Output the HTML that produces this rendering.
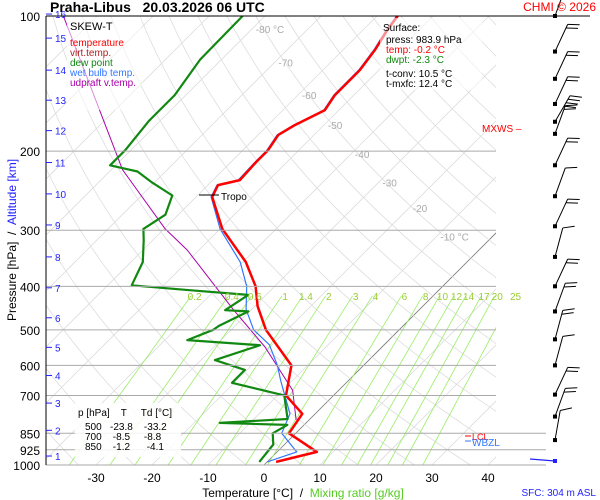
<!DOCTYPE html>
<html><head><meta charset="utf-8">
<style>
body{margin:0;background:#fff;}
svg{display:block;font-family:"Liberation Sans",sans-serif;}
</style></head>
<body>
<svg id="chart" width="600" height="500" viewBox="0 0 600 500" xmlns="http://www.w3.org/2000/svg">
<g id="grid"></g>
<g id="series"></g>
<g id="winds"></g>
<g id="labels"></g>
</svg>
<script>
// ---- data ----
const tempP = [984,935,850,769,700,600,500,443,400,353,298,253,238,232,212,199,184,175,162,150,132,119,107,100];
const tempT = [1.6,7.1,-1.2,-2.3,-8.5,-12.9,-23.8,-29.5,-33.4,-39.5,-49.6,-57.1,-58.2,-55.2,-55.5,-55.5,-56.4,-55.2,-52.5,-53.4,-53.4,-54.3,-55.7,-56.3];
const dewP = [984,900,850,814,806,790,700,656,614,584,541,527,500,490,455,452,418,408,398,353,316,298,277,251,235,222,215,199,171,150,125,100];
const dewT = [-1.4,-2,-4.1,-3,-15.4,-4,-8.8,-20.4,-20.4,-27.5,-22.1,-36,-33.2,-32.9,-30.2,-34.6,-33.2,-44.5,-55.7,-57.9,-61.6,-63.7,-62.3,-64.5,-70.4,-75,-81,-81,-82,-82,-83.8,-84];
const wbP = [984,935,850,769,700,650,600,540,500,450,400,353,298,253,238,232,212,199,184,175,162,150,132,119,107,100];
const wbT = [0,3.5,-2.5,-4.5,-8.7,-12,-15.4,-20.5,-26,-31,-35,-40.5,-50,-57.3,-58.4,-55.5,-55.7,-55.7,-56.6,-55.4,-52.7,-53.6,-53.6,-54.5,-55.9,-56.5];
const parP = [794,682,546,451,332,298,220,100];
const parT = [-2.3,-8.2,-20.9,-33.2,-52.1,-59.8,-78,-116];
const pressureTicks = [100,200,300,400,500,600,700,850,925,1000];
const tempTicks = [-30,-20,-10,0,10,20,30,40];
const isoLabels = [-80,-70,-60,-50,-40,-30,-20,-10];
const mixRatios = [0.2,0.4,0.6,1,1.4,2,3,4,6,8,10,12,14,17,20,25];
const altKm = [1,2,3,4,5,6,7,8,9,10,11,12,13,14,15,16];
const altP = [955,837,728,632,547,470,403,344,292,249,212,180,154,132,112,99];
const windP = [100,120,138,157,172,183,215,252,294,344,400,455,525,600,697,780,880];
const windDir = [20,25,25,25,30,20,25,20,25,15,25,20,15,15,25,20,10];
const windSpd = [20,20,20,20,40,20,20,10,20,10,20,20,20,10,20,20,10];

// ---- axes ----
const NS="http://www.w3.org/2000/svg";
const yOf = p => 16 + 449*Math.log10(p/100);
const xOf = (T,p) => 264 + 5.6*T + (465 - yOf(p));
function el(tag, attrs, parent){const e=document.createElementNS(NS,tag);for(const k in attrs)e.setAttribute(k,attrs[k]);parent.appendChild(e);return e;}
const grid=document.getElementById('grid'), series=document.getElementById('series'), winds=document.getElementById('winds'), labels=document.getElementById('labels');
const L=46, R=496;

const defs=el('defs',{},document.getElementById('chart'));
const cp=el('clipPath',{id:'plotclip'},defs);
el('rect',{x:L,y:16,width:R-L,height:449},cp);
grid.setAttribute('clip-path','url(#plotclip)');

for(let T=-150;T<=50;T+=10){
  const l=el('line',{x1:xOf(T,1000),y1:yOf(1000),x2:xOf(T,100),y2:yOf(100),stroke:T===0?'#777':'#ddd','stroke-width':0.8},grid);
  
  
}
for(let th=230;th<=480;th+=10){
  let d='';
  for(let p=1000;p>=100;p-=10){const T=th*Math.pow(p/1000,0.286)-273.15;d+=(p===1000?'M':'L')+xOf(T,p).toFixed(1)+','+yOf(p).toFixed(1);}
  const a=el('path',{d:d,fill:'none',stroke:'#ddd','stroke-width':0.8},grid);
  
  
}
function tdOf(w,p){const e=w*p/(622+w);const g=Math.log(e/6.112);return 243.5*g/(17.67-g);}
mixRatios.forEach(w=>{
  const m=el('line',{x1:xOf(tdOf(w,1000),1000),y1:yOf(1000),x2:xOf(tdOf(w,420),420),y2:yOf(420),stroke:'#99ee66','stroke-width':0.8},grid);
  
  
  const t=el('text',{x:xOf(tdOf(w,410),410),y:yOf(410)+9,'font-size':10,fill:'#99cc33','text-anchor':'middle'},labels);
  t.textContent=w;
  
  
});
pressureTicks.forEach(p=>{
  const y=yOf(p);
  const right = p>=850 ? 546 : (p===100?590:R);
  const l=el('line',{x1:L,y1:y,x2:right,y2:y,stroke:p===100?'#000':'#aaa','stroke-width':1},labels);
  
  
  const t=el('text',{x:40,y:y+5,'font-size':12,fill:'#000','text-anchor':'end'},labels);
  t.textContent=p;
  
  
});
el('line',{x1:L,y1:16,x2:L,y2:465,stroke:'#000','stroke-width':1},labels);
tempTicks.forEach(T=>{
  const t=el('text',{x:xOf(T,1000),y:482,'font-size':12,fill:'#000','text-anchor':'middle'},labels);
  t.textContent=T;
  
  
});
isoLabels.forEach(T=>{
  const pp = T===-80?107:T===-70?127:T===-60?150:T===-50?175:T===-40?203:T===-30?235:T===-20?268:310;
  const t=el('text',{x:xOf(T,pp)+4,y:yOf(pp)+4,'font-size':10,fill:'#aaa'},labels);
  t.textContent=(T===-80||T===-10)?T+' °C':T;
  
  
});
altKm.forEach((k,i)=>{
  const y=yOf(altP[i]);
  el('line',{x1:L,y1:y,x2:52,y2:y,stroke:'#22f','stroke-width':1},labels);
  const t=el('text',{x:55,y:y+4,'font-size':10,fill:'#22f'},labels);
  t.textContent=k;
  
  
});

function line(P,T,color,w,name){
  let d='';P.forEach((p,i)=>{d+=(i?'L':'M')+xOf(T[i],p).toFixed(1)+','+yOf(p).toFixed(1);});
  const s=el('path',{d:d,fill:'none',stroke:color,'stroke-width':w,'stroke-linejoin':'round'},series);
  
  
}
line(parP,parT,'#a0a','1','updraft-line');
line(wbP,wbT,'#3377ff','1.2','wet-bulb-line');
line(dewP,dewT,'#118811','2.2','dewpoint-line');
line(tempP,tempT,'#ff0000','2.5','temperature-line');

windP.forEach((p,i)=>{
  const x=555,y=yOf(p);
  const a=windDir[i]*Math.PI/180;
  const ex=x+30*Math.sin(a), ey=y-30*Math.cos(a);
  const g=el('g',{},winds);
  
  
  el('line',{x1:x,y1:y,x2:ex,y2:ey,stroke:'#000','stroke-width':1},g);
  el('rect',{x:x-2,y:y-2,width:4,height:4,fill:'#000'},g);
  let n=Math.round(windSpd[i]/10);
  for(let k=0;k<n;k++){
    const bx=ex-k*4*Math.sin(a), by=ey+k*4*Math.cos(a);
    const b=a+Math.PI/2-0.4;
    el('line',{x1:bx,y1:by,x2:bx+12*Math.sin(b),y2:by-12*Math.cos(b),stroke:'#000','stroke-width':1},g);
  }
});
el('line',{x1:530,y1:459,x2:555,y2:461,stroke:'#22f','stroke-width':1.2},winds);
el('rect',{x:553,y:459,width:4,height:4,fill:'#22f'},winds);
</script>
<svg style="position:absolute;left:0;top:0" width="600" height="500" xmlns="http://www.w3.org/2000/svg" font-family="Liberation Sans, sans-serif">
<text x="50" y="12" font-size="14" font-weight="bold">Praha-Libus&#160;&#160;&#160;20.03.2026 06 UTC</text>
<text x="596" y="11" font-size="12" fill="#f00" text-anchor="end">CHMI © 2026</text>
<g>
<rect x="67" y="17" width="74" height="93" fill="#fff" opacity="0.55"/>
<text x="70" y="30" font-size="11">SKEW-T</text>
<text x="70" y="46" font-size="10" fill="#f00">temperature</text>
<text x="70" y="56" font-size="10" fill="#a22">virt.temp.</text>
<text x="70" y="66" font-size="10" fill="#118811">dew point</text>
<text x="70" y="76" font-size="10" fill="#3377ff">wet bulb temp.</text>
<text x="70" y="86" font-size="10" fill="#a0a">udpraft v.temp.</text>
</g>
<g>
<rect x="380" y="18" width="102" height="72" fill="#fff" opacity="0.55"/>
<text x="383" y="31" font-size="10">Surface:</text>
<text x="386" y="43" font-size="10">press: 983.9 hPa</text>
<text x="386" y="53" font-size="10" fill="#f00">temp: -0.2 °C</text>
<text x="386" y="63" font-size="10" fill="#118811">dwpt: -2.3 °C</text>
<text x="386" y="77" font-size="10">t-conv: 10.5 °C</text>
<text x="386" y="87" font-size="10">t-mxfc: 12.4 °C</text>
</g>
<text x="482" y="132" font-size="10" fill="#f00">MXWS –</text>
<g>
<line x1="199" y1="195" x2="219" y2="195" stroke="#000"/>
<text x="221" y="200" font-size="10">Tropo</text>
</g>
<g>
<rect x="75" y="403" width="106" height="54" fill="#fff" opacity="0.85"/>
<text x="78" y="416" font-size="10">p [hPa]&#160;&#160;&#160;&#160;T&#160;&#160;&#160;&#160;&#160;Td [°C]</text>
<text x="85" y="430" font-size="10">500&#160;&#160;&#160;-23.8&#160;&#160;&#160;&#160;-33.2</text>
<text x="85" y="440" font-size="10">700&#160;&#160;&#160;&#160;-8.5&#160;&#160;&#160;&#160;&#160;-8.8</text>
<text x="85" y="450" font-size="10">850&#160;&#160;&#160;&#160;-1.2&#160;&#160;&#160;&#160;&#160;&#160;-4.1</text>
</g>
<g>
<line x1="465" y1="436" x2="471" y2="436" stroke="#f00"/>
<text x="472" y="440" font-size="9" fill="#f00">LCL</text>
<line x1="465" y1="441" x2="471" y2="441" stroke="#3377ff"/>
<text x="472" y="446" font-size="10" fill="#3377ff">WBZL</text>
</g>
<text x="16" y="240" font-size="12" transform="rotate(-90 16 240)" text-anchor="middle">Pressure [hPa]&#160;&#160;/&#160;&#160;<tspan fill="#22f">Altitude [km]</tspan></text>
<text x="303" y="497" font-size="12" text-anchor="middle">Temperature [°C]&#160;&#160;/&#160;&#160;<tspan fill="#55cc22">Mixing ratio [g/kg]</tspan></text>
<text x="596" y="496" font-size="10" fill="#22f" text-anchor="end">SFC: 304 m ASL</text>
</svg>
</body></html>
